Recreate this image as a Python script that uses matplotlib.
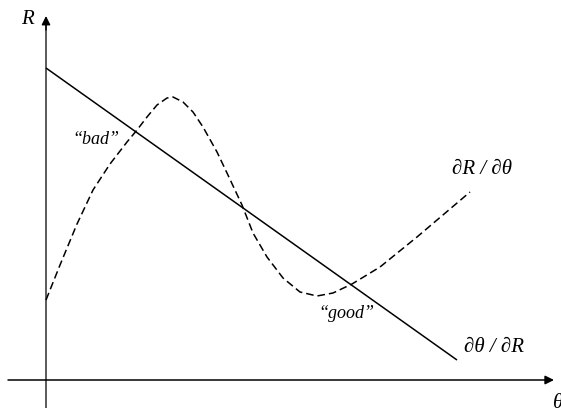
import matplotlib
matplotlib.use("Agg")
import matplotlib.pyplot as plt

# Solid line dθ/dR (theta, R)
line_theta = [0, 411]
line_R = [312, 20]

# Dashed curve dR/dθ (theta, R)
curve_theta = [0, 14, 31, 47, 64, 81, 91, 101, 111, 121, 127, 137, 147, 157, 171, 181, 196,
               207, 221, 237, 254, 271, 287, 306, 334, 371, 424]
curve_R = [80, 115, 156, 190, 216, 238, 250, 263, 275, 282, 283, 278, 268, 253, 228, 207, 175,
           147, 123, 102, 88, 84, 87, 96, 113, 143, 188]

labels = {
    "R": "R",
    "theta": "θ",
    "dRdtheta": "∂R / ∂θ",
    "dthetadR": "∂θ / ∂R",
    "bad": "“bad”",
    "good": "“good”",
}

fam = ["Liberation Serif", "DejaVu Serif"]

fig = plt.figure(figsize=(5.61, 4.09), dpi=100)
ax = fig.add_axes([0, 0, 1, 1])
ax.set_xlim(-46, 515)
ax.set_ylim(-29, 380)
ax.axis("off")

# vertical axis (grey line, black head)
ax.plot([0, 0], [-28, 356], color="#5a5a5a", lw=1.4, solid_capstyle="butt")
ax.annotate("", xy=(0, 364), xytext=(0, 350),
            arrowprops=dict(arrowstyle="-|>", color="black", lw=1.0,
                            mutation_scale=13, shrinkA=0, shrinkB=0))
# horizontal axis
ax.annotate("", xy=(508, 0), xytext=(-38, 0),
            arrowprops=dict(arrowstyle="-|>", color="black", lw=1.1,
                            mutation_scale=13, shrinkA=0, shrinkB=0))

ax.plot(line_theta, line_R, color="black", lw=1.1, solid_capstyle="butt")
ax.plot(curve_theta, curve_R, color="black", lw=1.1, linestyle=(0, (5, 2.6)))

ax.text(-19, 361, labels["R"], family=fam, style="italic", fontsize=15, ha="center", va="center")
ax.text(507, -23, labels["theta"], family=fam, style="italic", fontsize=15, ha="left", va="center")
ax.text(436, 210, labels["dRdtheta"], family=fam, style="italic", fontsize=15, ha="center", va="center")
ax.text(448, 33, labels["dthetadR"], family=fam, style="italic", fontsize=15, ha="center", va="center")
ax.text(50, 241, labels["bad"], family=fam, style="italic", fontsize=13, ha="center", va="center")
ax.text(300, 67, labels["good"], family=fam, style="italic", fontsize=13, ha="center", va="center")

fig.savefig("out.png", dpi=100)
